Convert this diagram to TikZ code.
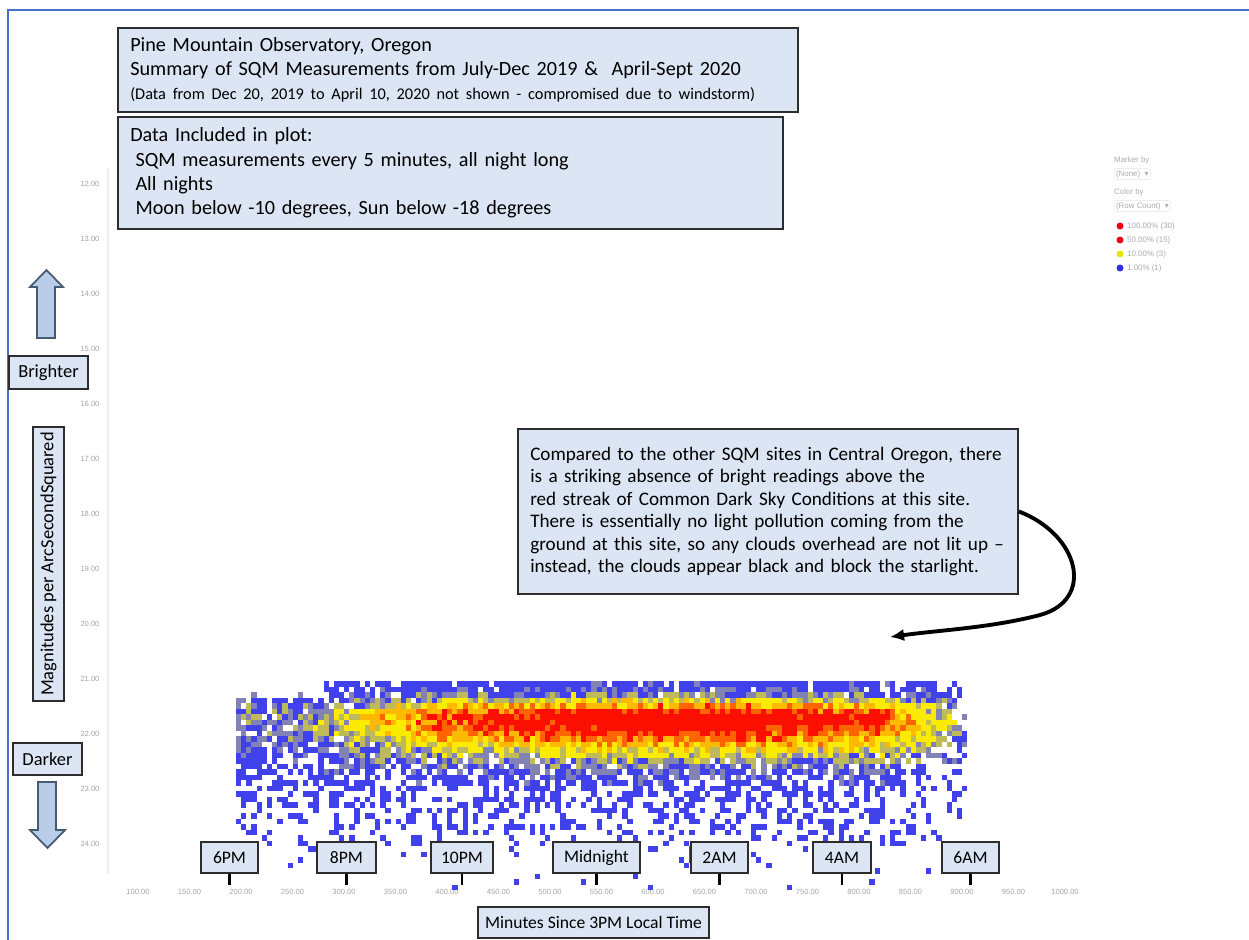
\documentclass[tikz,border=0pt]{standalone}
\usepackage{fontspec}
\setmainfont{Carlito}
\newfontfamily\uifont{Liberation Sans}
\newfontfamily\symfont{DejaVu Sans}
\usetikzlibrary{arrows.meta}
\definecolor{framecol}{RGB}{68,114,196}
\definecolor{boxfill}{RGB}{219,229,243}
\definecolor{boxline}{RGB}{45,45,45}
\definecolor{arrfill}{RGB}{185,205,232}
\definecolor{arrline}{RGB}{70,90,115}
\definecolor{axtext}{RGB}{165,165,165}
\definecolor{axline}{RGB}{238,238,238}
\definecolor{hmc1}{RGB}{65,65,235}
\definecolor{hmc2}{RGB}{130,130,180}
\definecolor{hmc3}{RGB}{190,185,90}
\definecolor{hmc4}{RGB}{250,235,0}
\definecolor{hmc5}{RGB}{255,185,0}
\definecolor{hmc6}{RGB}{255,100,0}
\definecolor{hmc7}{RGB}{250,15,0}
\definecolor{legred}{RGB}{240,0,20}
\definecolor{legyel}{RGB}{230,230,0}
\definecolor{legblu}{RGB}{50,50,225}
\tikzset{
  box/.style={draw=boxline, fill=boxfill, line width=1.1pt, inner sep=0pt},
  txtbox/.style={box, anchor=north west, align=left, inner xsep=7pt, inner ysep=0pt},
  timebox/.style={box, minimum height=0.62cm, font=\fontsize{10}{12}\selectfont},
  tickline/.style={line width=1.6pt, black},
  blockarrow/.style={draw=arrline, fill=arrfill, line width=1pt, line join=miter},
  axlab/.style={font=\uifont\fontsize{4.3}{5}\selectfont, text=axtext, inner sep=0pt},
  legtext/.style={font=\uifont\fontsize{4.5}{5}\selectfont, text=gray!65, inner sep=0.5pt},
  legbox/.style={legtext, draw=gray!15, rounded corners=1pt, inner sep=1pt},
  legdot/.style={circle, inner sep=0pt, minimum size=0.14cm},
  curvearrow/.style={line width=2.2pt, black, -{Latex[length=8pt,width=7pt]}}
}
\begin{document}
\begin{tikzpicture}[x=0.02cm, y=-0.02cm]
\useasboundingbox (0,0) rectangle (1249,940);
\fill[white] (0,0) rectangle (1249,940);
% frame
\draw[framecol, line width=1.5pt] (8,940) -- (8,10) -- (1249,10);
% y axis
\draw[axline, line width=0.6pt] (108,168) -- (108,874);
\foreach \m in {12,...,24}{
  \node[axlab] (yl\m) at (90,{184+55*(\m-12)}) {\m.00};
}
\foreach \m in {100,150,...,1000}{
  \node[axlab] (xl\m) at ({138+1.03*(\m-100)},892) {\m.00};
}
% heatmap
\pgfmathsetseed{12345}
\foreach \hc in {0,...,141}{%
  \pgfmathsetmacro\hx{236+5.15*\hc}%
  \pgfmathsetmacro\hxc{\hx+2.5}%
  \pgfmathsetmacro\hA{\hxc<300?0.22:(\hxc<440?0.22+(\hxc-300)*0.0045:(\hxc<580?0.85+(\hxc-440)*0.0017857:(\hxc<760?1.1:(\hxc<885?1.1-(\hxc-760)*0.00144:max(0.15,0.92-(\hxc-885)*0.0095)))))}%
  \pgfmathsetmacro\hH{\hxc<400?0.8:(\hxc<880?1:max(0,1-(\hxc-880)*0.0082))}%
  \foreach \hr in {0,...,37}{%
    \pgfmathsetmacro\hy{681+5.5*\hr}%
    \pgfmathsetmacro\hd{\hy+2.75-718}%
    \pgfmathsetmacro\hT{\hd<0?\hd/19:\hd/36}%
    \pgfmathsetmacro\hI{\hA*exp(-min(\hT*\hT,9))+0.36*(rnd-0.5)}%
    \pgfmathsetmacro\hP{\hH*max(0.03,min(0.9,1.2-0.0064*(\hy-681)))*(((\hxc<322)&&(\hy<696))?0:1)}%
    \pgfmathtruncatemacro\hk{\hI>0.88?7:(\hI>0.74?6:(\hI>0.6?5:(\hI>0.42?4:(\hI>0.3?3:(\hI>0.2?2:(rnd<\hP?1:0))))))}%
    \ifnum\hk>0 \fill[fill=hmc\hk] (\hx,\hy) rectangle ++(5.3,5.65);\fi
  }%
}
% title boxes
\node[txtbox, minimum width=13.6cm, minimum height=1.68cm, text width=13.6cm-14pt,
  font=\fontsize{11.5}{13.6}\selectfont] (title) at (117,27)
  {Pine Mountain Observatory, Oregon\\
   Summary of SQM Measurements from July-Dec 2019 \&\ \ April-Sept 2020\\
   {\fontsize{9.3}{13.6}\selectfont (Data from Dec 20, 2019 to April 10, 2020 not shown - compromised due to windstorm)}};
\node[txtbox, minimum width=13.3cm, minimum height=2.24cm, text width=13.3cm-14pt,
  font=\fontsize{11.5}{13.8}\selectfont] (incl) at (117,116)
  {Data Included in plot:\\
   \hspace*{3pt}SQM measurements every 5 minutes, all night long\\
   \hspace*{3pt}All nights\\
   \hspace*{3pt}Moon below -10 degrees, Sun below -18 degrees};
% annotation
\node[txtbox, minimum width=10cm, minimum height=3.3cm, text width=10cm-14pt,
  font=\fontsize{10.9}{12.8}\selectfont] (ann) at (517,428)
  {\mbox{Compared to the other SQM sites in Central Oregon, there}\\
   \mbox{is a striking absence of bright readings above the}\\
   \mbox{red streak of Common Dark Sky Conditions at this site.}\\
   \mbox{There is essentially no light pollution coming from the}\\
   \mbox{ground at this site, so any clouds overhead are not lit up --}\\
   \mbox{instead, the clouds appear black and block the starlight.}};
\coordinate (arrtip) at (890,637);
\draw[curvearrow] (ann.east) .. controls (1080,535) and (1095,600) .. (1040,615)
   .. controls (990,628) and (940,630) .. (arrtip);
% left side
\draw[blockarrow] (37,338) -- (37,287) -- (30,287) -- (46.5,270) -- (63,287) -- (55,287) -- (55,338) -- cycle;
\node[box, minimum width=1.58cm, minimum height=0.66cm, font=\fontsize{10.5}{12}\selectfont] (bright) at (48.5,372.5) {Brighter};
\node[box, rotate=90, minimum width=5.48cm, minimum height=0.62cm, font=\fontsize{10.5}{12}\selectfont] (mag) at (48.5,564) {Magnitudes per ArcSecondSquared};
\node[box, minimum width=1.38cm, minimum height=0.64cm, font=\fontsize{10.5}{12}\selectfont] (dark) at (47.5,759) {Darker};
\draw[blockarrow] (38,782) -- (56,782) -- (56,830) -- (65,830) -- (47.5,848) -- (30,830) -- (38,830) -- cycle;
% time labels
\node[timebox, minimum width=1.14cm] (t6pm) at (229.5,857.5) {6PM};
\node[timebox, minimum width=1.18cm] (t8pm) at (346.5,857.5) {8PM};
\node[timebox, minimum width=1.24cm] (t10pm) at (462,857.5) {10PM};
\node[timebox, minimum width=1.74cm] (tmid) at (596.5,857.5) {Midnight};
\node[timebox, minimum width=1.14cm] (t2am) at (719.5,857.5) {2AM};
\node[timebox, minimum width=1.16cm] (t4am) at (842,857.5) {4AM};
\node[timebox, minimum width=1.14cm] (t6am) at (970.5,857.5) {6AM};
\foreach \t in {t6pm,t8pm,t10pm,tmid,t2am,t4am,t6am}{
  \draw[tickline] (\t.south) -- ++(0,11);
}
\node[timebox, minimum width=4.62cm] (xtitle) at (593.5,922.5) {Minutes Since 3PM Local Time};
% legend
\node[legtext, anchor=west] (lgm) at (1113,160) {Marker by};
\node[legbox, anchor=west] (lgn) at (1114,174) {(None)\ \ {\symfont ▾}};
\node[legtext, anchor=west] (lgc) at (1113,192) {Color by};
\node[legbox, anchor=west] (lgr) at (1114,206) {(Row Count)\ \ {\symfont ▾}};
\node[legdot, fill=legred] (ld1) at (1120,226) {};
\node[legtext, anchor=west] (lt1) at (1126,226) {100.00\% (30)};
\node[legdot, fill=legred] (ld2) at (1120,240) {};
\node[legtext, anchor=west] (lt2) at (1126,240) {50.00\% (15)};
\node[legdot, fill=legyel] (ld3) at (1120,254) {};
\node[legtext, anchor=west] (lt3) at (1126,254) {10.00\% (3)};
\node[legdot, fill=legblu] (ld4) at (1120,268) {};
\node[legtext, anchor=west] (lt4) at (1126,268) {1.00\% (1)};
\end{tikzpicture}
\end{document}
